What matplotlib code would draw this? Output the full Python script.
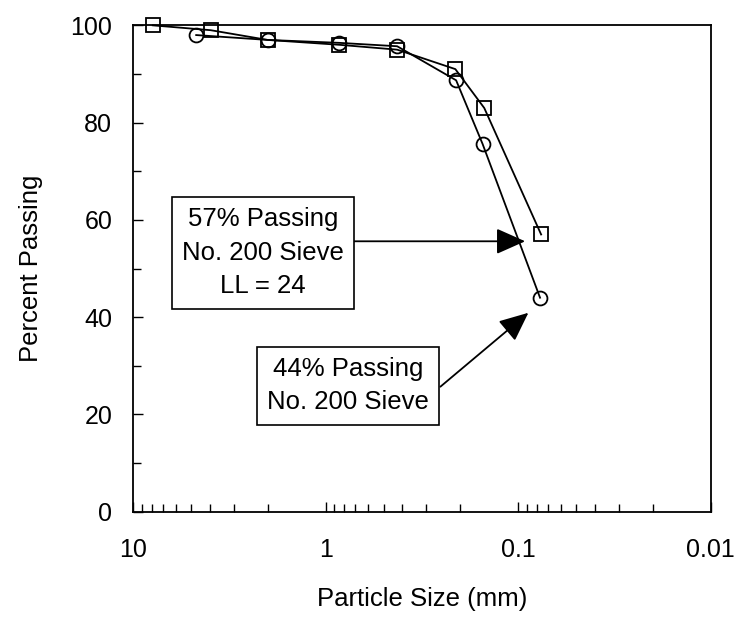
import numpy as np
import matplotlib
matplotlib.use('Agg')
import matplotlib.pyplot as plt
from matplotlib.ticker import LogLocator, NullFormatter, FixedLocator

plt.rcParams['font.family'] = ['Liberation Sans', 'DejaVu Sans']

# sieve data (mm, % passing)
size_sq = [7.9, 3.95, 2.0, 0.85, 0.425, 0.212, 0.15, 0.076]
pass_sq = [100, 99, 97, 96, 95, 91, 83, 57]

size_ci = [4.7, 2.0, 0.85, 0.425, 0.21, 0.153, 0.077]
pass_ci = [98, 97, 96.4, 95.7, 88.7, 75.6, 44]

x_ticks = [10, 1, 0.1, 0.01]
x_ticklabels = ['10', '1', '0.1', '0.01']

fig = plt.figure(figsize=(7.35, 6.18), dpi=100)
ax = fig.add_axes([0.181, 0.172, 0.786, 0.787])

ax.plot(size_sq, pass_sq, color='black', lw=1.3, marker='s', ms=10,
        mfc='none', mec='black', mew=1.3, clip_on=False)
ax.plot(size_ci, pass_ci, color='black', lw=1.3, marker='o', ms=10,
        mfc='none', mec='black', mew=1.3, clip_on=False)

ax.set_xscale('log')
ax.set_xlim(10, 0.01)
ax.set_ylim(0, 100)

ax.xaxis.set_major_locator(FixedLocator(x_ticks))
ax.set_xticklabels(x_ticklabels)
ax.xaxis.set_minor_locator(LogLocator(base=10, subs=np.arange(2, 10)))
ax.xaxis.set_minor_formatter(NullFormatter())
ax.set_yticks([0, 20, 40, 60, 80, 100])
ax.set_yticks([10, 30, 50, 70, 90], minor=True)

ax.tick_params(axis='both', which='both', direction='in', width=1.0, colors='black')
ax.tick_params(axis='both', which='major', length=7, labelsize=18)
ax.tick_params(axis='both', which='minor', length=6)
ax.tick_params(axis='x', which='major', pad=19)
ax.tick_params(axis='y', which='major', pad=15)
for sp in ax.spines.values():
    sp.set_linewidth(1.3)

ax.set_xlabel('Particle Size (mm)', fontsize=18.5, labelpad=18)
ax.set_ylabel('Percent Passing', fontsize=18.5, labelpad=20)

box = dict(boxstyle='square,pad=0.4', fc='white', ec='black', lw=1.2)
arrow = dict(arrowstyle='-|>,head_length=0.9,head_width=0.4', color='black',
             lw=1.3, shrinkA=0, shrinkB=0, mutation_scale=20)

# text boxes
ax.text(0.2254, 0.532, '57% Passing\nNo. 200 Sieve\nLL = 24', transform=ax.transAxes,
        ha='center', va='center', fontsize=18.5, linespacing=1.5, bbox=box, zorder=5)
ax.text(0.372, 0.259, '44% Passing\nNo. 200 Sieve', transform=ax.transAxes,
        ha='center', va='center', fontsize=18.5, linespacing=1.5, bbox=box, zorder=5)

# arrows from box edges to the No. 200 points
ax.annotate('', xy=(0.092, 55.6), xycoords='data',
            xytext=(0.382, 55.6), textcoords=('axes fraction', 'data'),
            arrowprops=arrow)
ax.annotate('', xy=(0.0885, 40.9), xycoords='data',
            xytext=(0.532, 0.257), textcoords='axes fraction',
            arrowprops=arrow)

fig.savefig('out.png', dpi=100)
